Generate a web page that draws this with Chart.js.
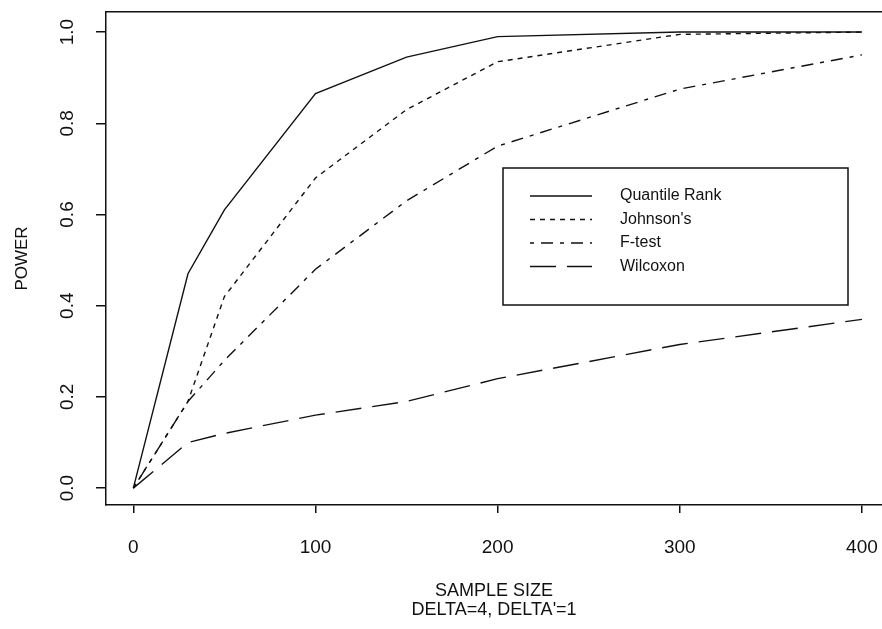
<!DOCTYPE html>
<html>
<head>
<meta charset="utf-8">
<script src="https://cdn.jsdelivr.net/npm/chart.js@4/dist/chart.umd.min.js"></script>
<style>
  html, body { margin: 0; padding: 0; background: #fff; }
  #wrap { width: 882px; height: 629px; position: relative; }
</style>
</head>
<body>
<div id="wrap"><canvas id="powerChart"></canvas></div>
<script>
const sampleSizes = [0, 30, 50, 100, 150, 200, 300, 400];
const quantileRank = [0, 0.47, 0.61, 0.865, 0.945, 0.99, 1.0, 1.0];
const johnsons = [0, 0.19, 0.42, 0.68, 0.83, 0.935, 0.995, 1.0];
const fTest = [0, 0.19, 0.28, 0.48, 0.63, 0.75, 0.875, 0.95];
const wilcoxon = [0, 0.10, 0.12, 0.16, 0.19, 0.24, 0.315, 0.37];

const xTickValues = [0, 100, 200, 300, 400];
const yTickValues = [0, 0.2, 0.4, 0.6, 0.8, 1.0];

const ink = "#111";

function toPoints(values) {
  return sampleSizes.map((x, i) => ({ x: x, y: values[i] }));
}

function lineSet(label, values, dash) {
  return {
    label: label,
    data: toPoints(values),
    borderColor: ink,
    borderWidth: 1.4,
    borderDash: dash,
    pointRadius: 0,
    tension: 0,
    fill: false,
  };
}

// boxed legend like the original figure
const boxLegend = {
  id: "boxLegend",
  afterDraw(chart) {
    const ctx = chart.ctx;
    const left = 503, top = 168, right = 848, bottom = 305;
    ctx.save();
    ctx.strokeStyle = ink;
    ctx.lineWidth = 1.5;
    ctx.strokeRect(left, top, right - left, bottom - top);
    ctx.font = "16px 'Liberation Sans', Arial, sans-serif";
    ctx.fillStyle = ink;
    ctx.textBaseline = "middle";
    chart.data.datasets.forEach((ds, i) => {
      const y = 196 + i * 23.5;
      ctx.setLineDash(ds.borderDash || []);
      ctx.beginPath();
      ctx.moveTo(530, y);
      ctx.lineTo(592, y);
      ctx.stroke();
      ctx.setLineDash([]);
      ctx.fillText(ds.label, 620, y);
    });
    ctx.restore();
  },
};

const chart = new Chart(document.getElementById("powerChart"), {
  type: "line",
  data: {
    datasets: [
      lineSet("Quantile Rank", quantileRank, []),
      lineSet("Johnson's", johnsons, [5, 5]),
      lineSet("F-test", fTest, [4, 7, 12, 7]),
      lineSet("Wilcoxon", wilcoxon, [26, 11]),
    ],
  },
  options: {
    responsive: true,
    maintainAspectRatio: false,
    animation: false,
    layout: { padding: { top: 12, right: 0, bottom: 0, left: 0 } },
    plugins: {
      legend: { display: false },
      tooltip: { enabled: false },
    },
    scales: {
      x: {
        type: "linear",
        position: "bottom",
        min: -15,
        max: 411,
        afterBuildTicks: (scale) => {
          scale.ticks = xTickValues.map((v) => ({ value: v }));
        },
        afterFit: (scale) => {
          scale.height = 124;
          scale.paddingLeft = 0;
          scale.paddingRight = 0;
        },
        grid: { drawOnChartArea: false, drawTicks: true, tickLength: 8, color: ink, lineWidth: 1.5 },
        border: { display: true, color: ink, width: 1.5 },
        ticks: {
          color: ink,
          padding: 23,
          maxRotation: 0,
          font: { family: "'Liberation Sans Narrow', 'Liberation Sans', sans-serif", size: 19 },
          callback: (v) => String(v),
        },
        title: {
          display: true,
          text: ["SAMPLE SIZE", "DELTA=4, DELTA'=1"],
          color: ink,
          font: { family: "'Liberation Sans', Arial, sans-serif", size: 18, lineHeight: 1.05 },
          padding: { top: 0, bottom: 10 },
        },
      },
      xTop: {
        type: "linear",
        position: "top",
        min: -15,
        max: 411,
        afterFit: (scale) => {
          scale.height = 0;
          scale.paddingLeft = 0;
          scale.paddingRight = 0;
        },
        grid: { display: false, drawTicks: false },
        border: { display: true, color: ink, width: 1.5 },
        ticks: { display: false },
      },
      y: {
        type: "linear",
        position: "left",
        min: -0.037,
        max: 1.044,
        afterBuildTicks: (scale) => {
          scale.ticks = yTickValues.map((v) => ({ value: v }));
        },
        afterFit: (scale) => {
          scale.width = 106;
          scale.paddingTop = 0;
          scale.paddingBottom = 0;
        },
        grid: { drawOnChartArea: false, drawTicks: true, tickLength: 10, color: ink, lineWidth: 1.5 },
        border: { display: true, color: ink, width: 1.5 },
        ticks: {
          color: ink,
          padding: 15,
          minRotation: 90,
          maxRotation: 90,
          crossAlign: "center",
          font: { family: "'Liberation Sans Narrow', 'Liberation Sans', sans-serif", size: 19 },
          callback: (v) => v.toFixed(1),
        },
        title: {
          display: true,
          text: "POWER",
          color: ink,
          font: { family: "'Liberation Sans', Arial, sans-serif", size: 17 },
          padding: { top: 12, bottom: 0 },
        },
      },
    },
  },
  plugins: [boxLegend],
});
</script>
</body>
</html>
